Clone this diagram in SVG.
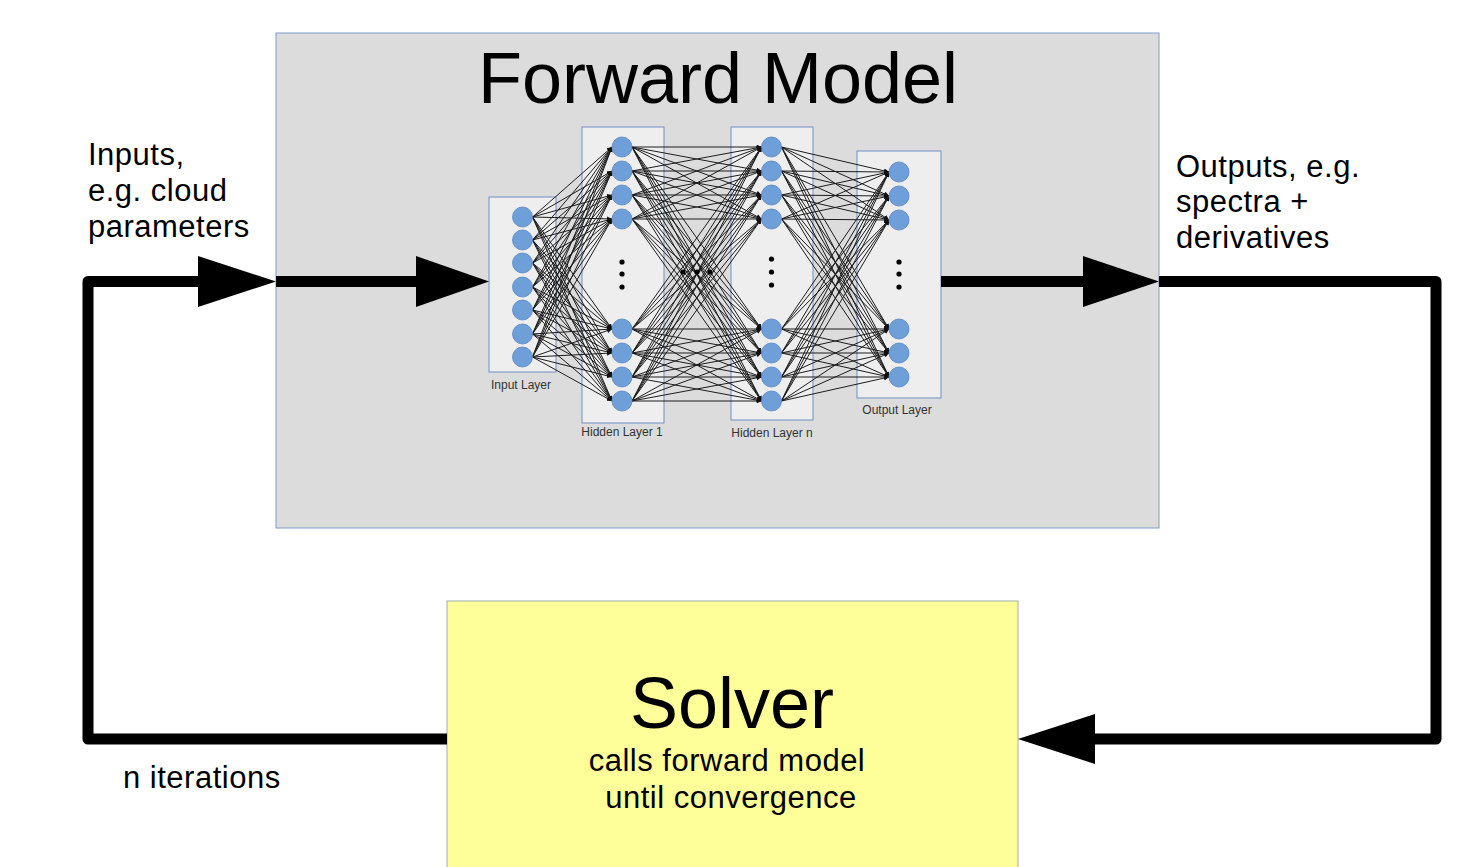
<svg xmlns="http://www.w3.org/2000/svg" width="1466" height="867" viewBox="0 0 1466 867">
  <style>
    .txt { font-family: "Liberation Sans", Arial, sans-serif; fill: #000; }
    .big { font-size: 72px; }
    .mid { font-size: 31px; letter-spacing: 0.5px; }
    .lbl { font-family: "Liberation Sans", Arial, sans-serif; font-size: 12px; fill: #333; text-anchor: middle; }
    .layer { fill: #eeeeee; stroke: #6f8fc0; stroke-width: 1; }
    .node { fill: #6f9fd8; stroke: #5585c4; stroke-width: 0.8; }
    .dot { fill: #000; }
    .flow { fill: none; stroke: #000; stroke-width: 11; stroke-linejoin: round; }
    .head { fill: #000; }
    .edges line { stroke: #1c1c1c; stroke-width: 1; marker-end: url(#tip); }
  </style>
  <defs>
    <marker id="tip" viewBox="0 0 6 6" refX="6" refY="3" markerWidth="5" markerHeight="5" orient="auto" markerUnits="userSpaceOnUse">
      <path d="M0,0 L6,3 L0,6 z" fill="#111"/>
    </marker>
  </defs>

  <rect width="1466" height="867" fill="#fff"/>

  <!-- forward model container -->
  <g id="forward-model">
    <rect x="276" y="33" width="883" height="495" fill="#dcdcdc" stroke="#7f9cc6" stroke-width="1"/>
    <text class="txt big" x="718" y="103" text-anchor="middle">Forward Model</text>
  </g>

  <!-- solver box -->
  <g id="solver">
    <rect x="447" y="601" width="571" height="280" fill="#ffff99" stroke="#9fb0ad" stroke-width="1"/>
    <text class="txt big" x="732" y="728" text-anchor="middle">Solver</text>
    <text class="txt mid" x="727" y="771" text-anchor="middle">calls forward model</text>
    <text class="txt mid" x="731" y="808" text-anchor="middle">until convergence</text>
  </g>

  <!-- layer frames -->
  <g id="input-layer">
    <rect class="layer" x="489" y="197" width="67" height="175"/>
    <text class="lbl" x="521" y="389">Input Layer</text>
  </g>
  <g id="hidden-layer-1">
    <rect class="layer" x="582" y="127" width="82" height="296"/>
    <text class="lbl" x="622" y="436">Hidden Layer 1</text>
  </g>
  <g id="hidden-layer-n">
    <rect class="layer" x="731" y="127" width="82" height="293"/>
    <text class="lbl" x="772" y="437">Hidden Layer n</text>
  </g>
  <g id="output-layer">
    <rect class="layer" x="857" y="151" width="84" height="247"/>
    <text class="lbl" x="897" y="414">Output Layer</text>
  </g>

  <!-- network connections -->
  <g id="network-edges" class="edges">
    <!-- input -> hidden 1 -->
    <line x1="532.5" y1="217" x2="612" y2="147"/><line x1="532.5" y1="217" x2="612" y2="171"/><line x1="532.5" y1="217" x2="612" y2="195"/><line x1="532.5" y1="217" x2="612" y2="219"/><line x1="532.5" y1="217" x2="612" y2="329"/><line x1="532.5" y1="217" x2="612" y2="353"/><line x1="532.5" y1="217" x2="612" y2="377"/><line x1="532.5" y1="217" x2="612" y2="401"/>
    <line x1="532.5" y1="240" x2="612" y2="147"/><line x1="532.5" y1="240" x2="612" y2="171"/><line x1="532.5" y1="240" x2="612" y2="195"/><line x1="532.5" y1="240" x2="612" y2="219"/><line x1="532.5" y1="240" x2="612" y2="329"/><line x1="532.5" y1="240" x2="612" y2="353"/><line x1="532.5" y1="240" x2="612" y2="377"/><line x1="532.5" y1="240" x2="612" y2="401"/>
    <line x1="532.5" y1="263" x2="612" y2="147"/><line x1="532.5" y1="263" x2="612" y2="171"/><line x1="532.5" y1="263" x2="612" y2="195"/><line x1="532.5" y1="263" x2="612" y2="219"/><line x1="532.5" y1="263" x2="612" y2="329"/><line x1="532.5" y1="263" x2="612" y2="353"/><line x1="532.5" y1="263" x2="612" y2="377"/><line x1="532.5" y1="263" x2="612" y2="401"/>
    <line x1="532.5" y1="287" x2="612" y2="147"/><line x1="532.5" y1="287" x2="612" y2="171"/><line x1="532.5" y1="287" x2="612" y2="195"/><line x1="532.5" y1="287" x2="612" y2="219"/><line x1="532.5" y1="287" x2="612" y2="329"/><line x1="532.5" y1="287" x2="612" y2="353"/><line x1="532.5" y1="287" x2="612" y2="377"/><line x1="532.5" y1="287" x2="612" y2="401"/>
    <line x1="532.5" y1="310" x2="612" y2="147"/><line x1="532.5" y1="310" x2="612" y2="171"/><line x1="532.5" y1="310" x2="612" y2="195"/><line x1="532.5" y1="310" x2="612" y2="219"/><line x1="532.5" y1="310" x2="612" y2="329"/><line x1="532.5" y1="310" x2="612" y2="353"/><line x1="532.5" y1="310" x2="612" y2="377"/><line x1="532.5" y1="310" x2="612" y2="401"/>
    <line x1="532.5" y1="334" x2="612" y2="147"/><line x1="532.5" y1="334" x2="612" y2="171"/><line x1="532.5" y1="334" x2="612" y2="195"/><line x1="532.5" y1="334" x2="612" y2="219"/><line x1="532.5" y1="334" x2="612" y2="329"/><line x1="532.5" y1="334" x2="612" y2="353"/><line x1="532.5" y1="334" x2="612" y2="377"/><line x1="532.5" y1="334" x2="612" y2="401"/>
    <line x1="532.5" y1="357" x2="612" y2="147"/><line x1="532.5" y1="357" x2="612" y2="171"/><line x1="532.5" y1="357" x2="612" y2="195"/><line x1="532.5" y1="357" x2="612" y2="219"/><line x1="532.5" y1="357" x2="612" y2="329"/><line x1="532.5" y1="357" x2="612" y2="353"/><line x1="532.5" y1="357" x2="612" y2="377"/><line x1="532.5" y1="357" x2="612" y2="401"/>
    <!-- hidden 1 -> hidden n -->
    <line x1="632" y1="147" x2="761.5" y2="147"/><line x1="632" y1="147" x2="761.5" y2="171"/><line x1="632" y1="147" x2="761.5" y2="195"/><line x1="632" y1="147" x2="761.5" y2="219"/><line x1="632" y1="147" x2="761.5" y2="329"/><line x1="632" y1="147" x2="761.5" y2="353"/><line x1="632" y1="147" x2="761.5" y2="377"/><line x1="632" y1="147" x2="761.5" y2="401"/>
    <line x1="632" y1="171" x2="761.5" y2="147"/><line x1="632" y1="171" x2="761.5" y2="171"/><line x1="632" y1="171" x2="761.5" y2="195"/><line x1="632" y1="171" x2="761.5" y2="219"/><line x1="632" y1="171" x2="761.5" y2="329"/><line x1="632" y1="171" x2="761.5" y2="353"/><line x1="632" y1="171" x2="761.5" y2="377"/><line x1="632" y1="171" x2="761.5" y2="401"/>
    <line x1="632" y1="195" x2="761.5" y2="147"/><line x1="632" y1="195" x2="761.5" y2="171"/><line x1="632" y1="195" x2="761.5" y2="195"/><line x1="632" y1="195" x2="761.5" y2="219"/><line x1="632" y1="195" x2="761.5" y2="329"/><line x1="632" y1="195" x2="761.5" y2="353"/><line x1="632" y1="195" x2="761.5" y2="377"/><line x1="632" y1="195" x2="761.5" y2="401"/>
    <line x1="632" y1="219" x2="761.5" y2="147"/><line x1="632" y1="219" x2="761.5" y2="171"/><line x1="632" y1="219" x2="761.5" y2="195"/><line x1="632" y1="219" x2="761.5" y2="219"/><line x1="632" y1="219" x2="761.5" y2="329"/><line x1="632" y1="219" x2="761.5" y2="353"/><line x1="632" y1="219" x2="761.5" y2="377"/><line x1="632" y1="219" x2="761.5" y2="401"/>
    <line x1="632" y1="329" x2="761.5" y2="147"/><line x1="632" y1="329" x2="761.5" y2="171"/><line x1="632" y1="329" x2="761.5" y2="195"/><line x1="632" y1="329" x2="761.5" y2="219"/><line x1="632" y1="329" x2="761.5" y2="329"/><line x1="632" y1="329" x2="761.5" y2="353"/><line x1="632" y1="329" x2="761.5" y2="377"/><line x1="632" y1="329" x2="761.5" y2="401"/>
    <line x1="632" y1="353" x2="761.5" y2="147"/><line x1="632" y1="353" x2="761.5" y2="171"/><line x1="632" y1="353" x2="761.5" y2="195"/><line x1="632" y1="353" x2="761.5" y2="219"/><line x1="632" y1="353" x2="761.5" y2="329"/><line x1="632" y1="353" x2="761.5" y2="353"/><line x1="632" y1="353" x2="761.5" y2="377"/><line x1="632" y1="353" x2="761.5" y2="401"/>
    <line x1="632" y1="377" x2="761.5" y2="147"/><line x1="632" y1="377" x2="761.5" y2="171"/><line x1="632" y1="377" x2="761.5" y2="195"/><line x1="632" y1="377" x2="761.5" y2="219"/><line x1="632" y1="377" x2="761.5" y2="329"/><line x1="632" y1="377" x2="761.5" y2="353"/><line x1="632" y1="377" x2="761.5" y2="377"/><line x1="632" y1="377" x2="761.5" y2="401"/>
    <line x1="632" y1="401" x2="761.5" y2="147"/><line x1="632" y1="401" x2="761.5" y2="171"/><line x1="632" y1="401" x2="761.5" y2="195"/><line x1="632" y1="401" x2="761.5" y2="219"/><line x1="632" y1="401" x2="761.5" y2="329"/><line x1="632" y1="401" x2="761.5" y2="353"/><line x1="632" y1="401" x2="761.5" y2="377"/><line x1="632" y1="401" x2="761.5" y2="401"/>
    <!-- hidden n -> output -->
    <line x1="781.5" y1="147" x2="889" y2="172"/><line x1="781.5" y1="147" x2="889" y2="196"/><line x1="781.5" y1="147" x2="889" y2="220"/><line x1="781.5" y1="147" x2="889" y2="329"/><line x1="781.5" y1="147" x2="889" y2="353"/><line x1="781.5" y1="147" x2="889" y2="377"/>
    <line x1="781.5" y1="171" x2="889" y2="172"/><line x1="781.5" y1="171" x2="889" y2="196"/><line x1="781.5" y1="171" x2="889" y2="220"/><line x1="781.5" y1="171" x2="889" y2="329"/><line x1="781.5" y1="171" x2="889" y2="353"/><line x1="781.5" y1="171" x2="889" y2="377"/>
    <line x1="781.5" y1="195" x2="889" y2="172"/><line x1="781.5" y1="195" x2="889" y2="196"/><line x1="781.5" y1="195" x2="889" y2="220"/><line x1="781.5" y1="195" x2="889" y2="329"/><line x1="781.5" y1="195" x2="889" y2="353"/><line x1="781.5" y1="195" x2="889" y2="377"/>
    <line x1="781.5" y1="219" x2="889" y2="172"/><line x1="781.5" y1="219" x2="889" y2="196"/><line x1="781.5" y1="219" x2="889" y2="220"/><line x1="781.5" y1="219" x2="889" y2="329"/><line x1="781.5" y1="219" x2="889" y2="353"/><line x1="781.5" y1="219" x2="889" y2="377"/>
    <line x1="781.5" y1="329" x2="889" y2="172"/><line x1="781.5" y1="329" x2="889" y2="196"/><line x1="781.5" y1="329" x2="889" y2="220"/><line x1="781.5" y1="329" x2="889" y2="329"/><line x1="781.5" y1="329" x2="889" y2="353"/><line x1="781.5" y1="329" x2="889" y2="377"/>
    <line x1="781.5" y1="353" x2="889" y2="172"/><line x1="781.5" y1="353" x2="889" y2="196"/><line x1="781.5" y1="353" x2="889" y2="220"/><line x1="781.5" y1="353" x2="889" y2="329"/><line x1="781.5" y1="353" x2="889" y2="353"/><line x1="781.5" y1="353" x2="889" y2="377"/>
    <line x1="781.5" y1="377" x2="889" y2="172"/><line x1="781.5" y1="377" x2="889" y2="196"/><line x1="781.5" y1="377" x2="889" y2="220"/><line x1="781.5" y1="377" x2="889" y2="329"/><line x1="781.5" y1="377" x2="889" y2="353"/><line x1="781.5" y1="377" x2="889" y2="377"/>
    <line x1="781.5" y1="401" x2="889" y2="172"/><line x1="781.5" y1="401" x2="889" y2="196"/><line x1="781.5" y1="401" x2="889" y2="220"/><line x1="781.5" y1="401" x2="889" y2="329"/><line x1="781.5" y1="401" x2="889" y2="353"/><line x1="781.5" y1="401" x2="889" y2="377"/>
  </g>

  <!-- neurons -->
  <g id="input-nodes">
    <circle class="node" cx="522.5" cy="217" r="10"/><circle class="node" cx="522.5" cy="240" r="10"/><circle class="node" cx="522.5" cy="263" r="10"/><circle class="node" cx="522.5" cy="287" r="10"/><circle class="node" cx="522.5" cy="310" r="10"/><circle class="node" cx="522.5" cy="334" r="10"/><circle class="node" cx="522.5" cy="357" r="10"/>
  </g>
  <g id="hidden-1-nodes">
    <circle class="node" cx="622" cy="147" r="10"/><circle class="node" cx="622" cy="171" r="10"/><circle class="node" cx="622" cy="195" r="10"/><circle class="node" cx="622" cy="219" r="10"/>
    <circle class="dot" cx="622" cy="262" r="2.6"/><circle class="dot" cx="622" cy="274" r="2.6"/><circle class="dot" cx="622" cy="287" r="2.6"/>
    <circle class="node" cx="622" cy="329" r="10"/><circle class="node" cx="622" cy="353" r="10"/><circle class="node" cx="622" cy="377" r="10"/><circle class="node" cx="622" cy="401" r="10"/>
  </g>
  <g id="layer-ellipsis">
    <circle class="dot" cx="683" cy="272" r="2.6"/><circle class="dot" cx="697" cy="272" r="2.6"/><circle class="dot" cx="710" cy="272" r="2.6"/>
  </g>
  <g id="hidden-n-nodes">
    <circle class="node" cx="771.5" cy="147" r="10"/><circle class="node" cx="771.5" cy="171" r="10"/><circle class="node" cx="771.5" cy="195" r="10"/><circle class="node" cx="771.5" cy="219" r="10"/>
    <circle class="dot" cx="771.5" cy="259" r="2.6"/><circle class="dot" cx="771.5" cy="272" r="2.6"/><circle class="dot" cx="771.5" cy="285" r="2.6"/>
    <circle class="node" cx="771.5" cy="329" r="10"/><circle class="node" cx="771.5" cy="353" r="10"/><circle class="node" cx="771.5" cy="377" r="10"/><circle class="node" cx="771.5" cy="401" r="10"/>
  </g>
  <g id="output-nodes">
    <circle class="node" cx="899" cy="172" r="10"/><circle class="node" cx="899" cy="196" r="10"/><circle class="node" cx="899" cy="220" r="10"/>
    <circle class="dot" cx="899" cy="262" r="2.6"/><circle class="dot" cx="899" cy="274" r="2.6"/><circle class="dot" cx="899" cy="287" r="2.6"/>
    <circle class="node" cx="899" cy="329" r="10"/><circle class="node" cx="899" cy="353" r="10"/><circle class="node" cx="899" cy="377" r="10"/>
  </g>

  <!-- main data-flow loop -->
  <g id="connectors">
    <path class="flow" d="M447 739 H88 V281.5 H205"/>
    <polygon class="head" points="198,256 276,281.5 198,307"/>
    <path class="flow" d="M276 281.5 H420"/>
    <polygon class="head" points="416,256 489,281.5 416,307"/>
    <path class="flow" d="M941 281.5 H1090"/>
    <polygon class="head" points="1083,256 1159,281.5 1083,307"/>
    <path class="flow" d="M1159 281.5 H1436 V739 H1090"/>
    <polygon class="head" points="1095,714 1018,739 1095,764"/>
  </g>

  <!-- loop annotations -->
  <g id="labels">
    <text class="txt mid" x="88" y="165">Inputs,</text>
    <text class="txt mid" x="88" y="201">e.g. cloud</text>
    <text class="txt mid" x="88" y="237">parameters</text>
    <text class="txt mid" x="1176" y="177">Outputs, e.g.</text>
    <text class="txt mid" x="1176" y="212">spectra +</text>
    <text class="txt mid" x="1176" y="248">derivatives</text>
    <text class="txt mid" x="123" y="788">n iterations</text>
  </g>
</svg>
